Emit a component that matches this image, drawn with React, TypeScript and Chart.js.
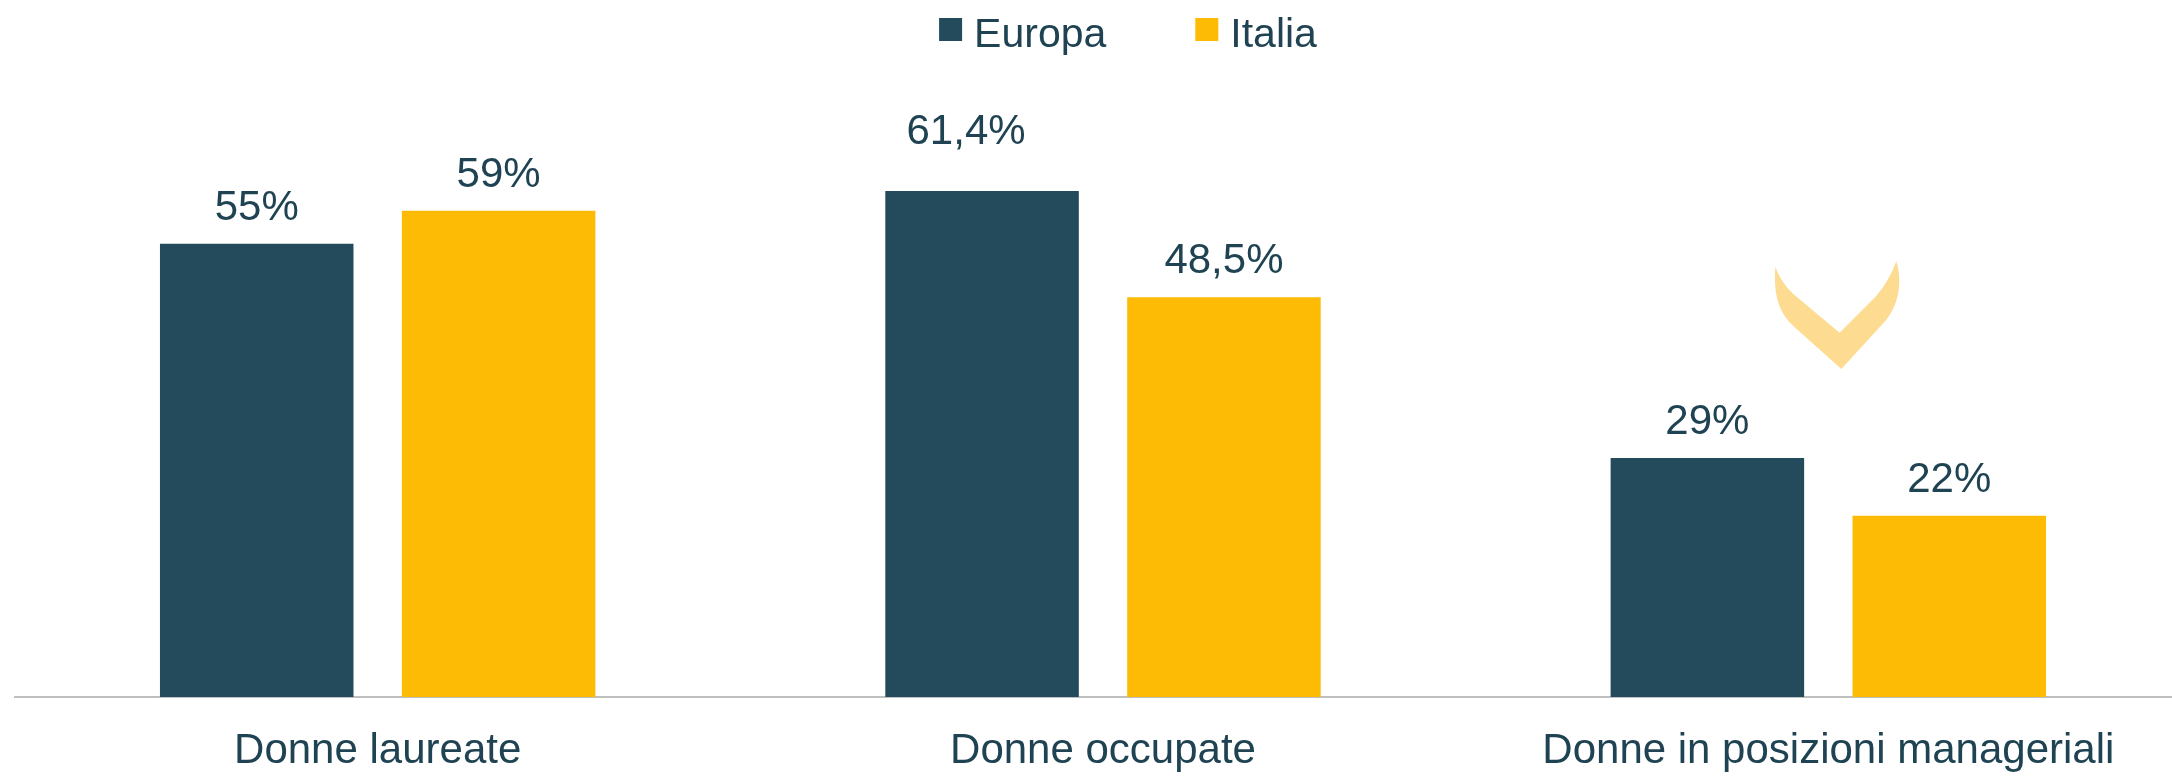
import React, { useEffect, useRef } from "react";
import { Chart, registerables } from "chart.js";

Chart.register(...registerables);

// ---- data ----
const categories = ["Donne laureate", "Donne occupate", "Donne in posizioni manageriali"];
const seriesNames = ["Europa", "Italia"];
const europaValues = [55, 61.4, 29];
const italiaValues = [59, 48.5, 22];

// ---- style ----
const FONT = '"Liberation Sans", Arial, Helvetica, sans-serif';
const TEXT = "#1F4352";
const COL_EU = "#234B5B";
const COL_IT = "#FDBB05";
const CHEVRON = "#FDDC92";

const fmt = (v: number) => String(v).replace(".", ",") + "%";

const valueLabels = {
  id: "valueLabels",
  afterDatasetsDraw(chart: any) {
    const ctx = chart.ctx;
    ctx.save();
    ctx.font = `42px ${FONT}`;
    ctx.fillStyle = TEXT;
    ctx.textAlign = "center";
    ctx.textBaseline = "alphabetic";
    chart.data.datasets.forEach((ds: any, d: number) => {
      const meta = chart.getDatasetMeta(d);
      meta.data.forEach((el: any, i: number) => {
        // the original nudges the "61,4%" label up-left
        const nudge = d === 0 && i === 1 ? { dx: -16, dy: -23 } : { dx: 0, dy: 0 };
        ctx.fillText(fmt(ds.data[i]), el.x + nudge.dx, el.y - 24 + nudge.dy);
      });
    });
    ctx.restore();
  },
};

const chevron = {
  id: "chevron",
  beforeDatasetsDraw(chart: any) {
    const x = chart.scales.x;
    const y = chart.scales.y;
    const bx = x.getPixelForValue(2) + 13;
    const by = y.getPixelForValue(39.8);
    const ctx = chart.ctx;
    ctx.save();
    ctx.translate(bx, by);
    ctx.fillStyle = CHEVRON;
    ctx.beginPath();
    ctx.moveTo(0, 0);
    ctx.lineTo(-47, -42);
    ctx.bezierCurveTo(-62, -56, -68, -72, -66, -102);
    ctx.quadraticCurveTo(-60, -86, -48, -75);
    ctx.lineTo(-1.7, -36.3);
    ctx.lineTo(34, -72);
    ctx.quadraticCurveTo(48, -88, 55, -108);
    ctx.bezierCurveTo(62, -85, 56, -62, 44, -48);
    ctx.closePath();
    ctx.fill();
    ctx.restore();
  },
};

const customLegend = {
  id: "customLegend",
  afterDraw(chart: any) {
    const ctx = chart.ctx;
    const area = chart.chartArea;
    ctx.save();
    ctx.font = `41px ${FONT}`;
    ctx.textBaseline = "alphabetic";
    ctx.textAlign = "left";
    const box = 23;
    const gap = 12;
    const itemGap = 89;
    const items = chart.data.datasets.map((ds: any) => ({
      text: ds.label,
      color: ds.backgroundColor,
      w: ctx.measureText(ds.label).width,
    }));
    const total = items.reduce((s: number, it: any) => s + box + gap + it.w, 0) + itemGap * (items.length - 1);
    const center = (area.left + area.right) / 2 + 25;
    let cx = center - total / 2;
    items.forEach((it: any) => {
      ctx.fillStyle = it.color;
      ctx.fillRect(cx, 18, box, box);
      ctx.fillStyle = TEXT;
      ctx.fillText(it.text, cx + box + gap, 46.5);
      cx += box + gap + it.w + itemGap;
    });
    ctx.restore();
  },
};

export default function App() {
  const ref = useRef<HTMLCanvasElement>(null);

  useEffect(() => {
    if (!ref.current) return;
    const chart = new Chart(ref.current, {
      type: "bar",
      data: {
        labels: categories,
        datasets: [
          {
            label: seriesNames[0],
            data: europaValues,
            backgroundColor: COL_EU,
            categoryPercentage: 0.667,
            barPercentage: 0.8,
          },
          {
            label: seriesNames[1],
            data: italiaValues,
            backgroundColor: COL_IT,
            categoryPercentage: 0.667,
            barPercentage: 0.8,
          },
        ],
      },
      options: {
        responsive: false,
        animation: false,
        devicePixelRatio: 1,
        layout: { padding: { left: 15, right: 0, top: 120, bottom: 0 } },
        plugins: {
          legend: { display: false },
          tooltip: { enabled: false },
        },
        scales: {
          x: {
            z: 1,
            grid: { display: false, drawTicks: false },
            border: { display: true, color: "#BFBFBF", width: 2 },
            ticks: {
              color: TEXT,
              font: { family: FONT, size: 42, lineHeight: 1.12 },
              padding: 31,
              maxRotation: 0,
              autoSkip: false,
            },
            afterFit: (scale: any) => {
              scale.height = 79;
            },
          },
          y: { display: false, min: 0, max: 70 },
        },
      },
      plugins: [chevron, valueLabels, customLegend],
    });
    return () => chart.destroy();
  }, []);

  return (
    <div
      style={{
        position: "fixed",
        left: 0,
        top: 0,
        width: 2172,
        height: 776,
        overflow: "hidden",
        background: "#ffffff",
      }}
    >
      <canvas ref={ref} width={2191} height={776} style={{ display: "block" }} />
    </div>
  );
}
